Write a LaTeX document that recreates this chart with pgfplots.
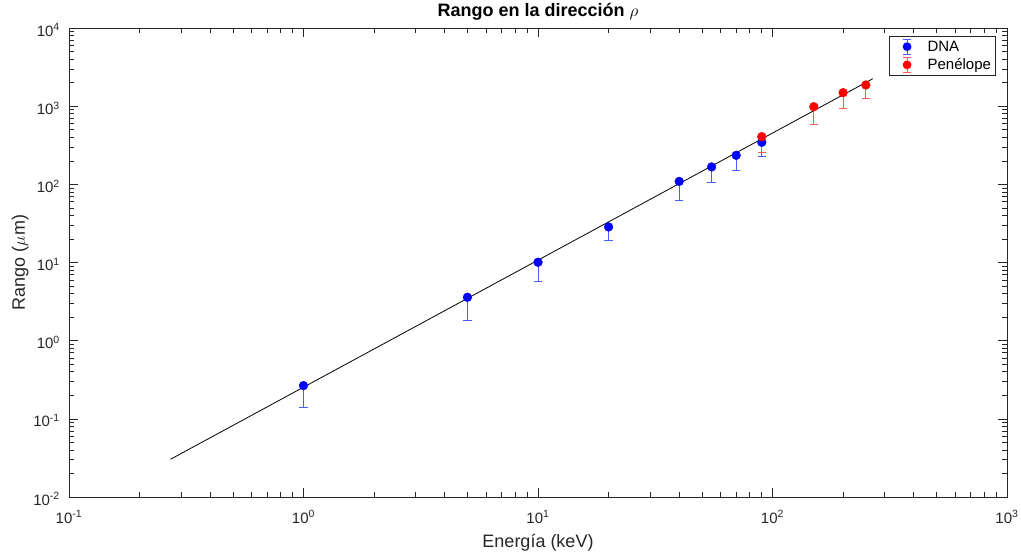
\documentclass[border=0pt]{standalone}
\usepackage{fontspec}
\setmainfont{Liberation Sans}
\usepackage{pgfplots}
\pgfplotsset{compat=1.18}
\definecolor{axgray}{rgb}{0.15,0.15,0.15}
\definecolor{errblue}{rgb}{0.3,0.35,1}
\definecolor{errred}{rgb}{1,0.35,0.35}
\pgfplotsset{
  ebblue/.style={legend image code/.code={
    \draw[errblue, line width=1pt, fill=none] (16pt,-7.5pt) -- (16pt,7.5pt);
    \draw[errblue, line width=1pt, fill=none] (12pt,-7.5pt) -- (20pt,-7.5pt);
    \draw[errblue, line width=1pt, fill=none] (12pt,7.5pt) -- (20pt,7.5pt);
    \fill[blue, draw=none] (16pt,0pt) circle (4.4pt);
    \path[draw=none, fill=none] (0pt,0pt) (34pt,0pt);
  }},
  ebred/.style={legend image code/.code={
    \draw[errred, line width=1pt, fill=none] (16pt,-7.5pt) -- (16pt,7.5pt);
    \draw[errred, line width=1pt, fill=none] (12pt,-7.5pt) -- (20pt,-7.5pt);
    \draw[errred, line width=1pt, fill=none] (12pt,7.5pt) -- (20pt,7.5pt);
    \fill[red, draw=none] (16pt,0pt) circle (4.4pt);
    \path[draw=none, fill=none] (0pt,0pt) (34pt,0pt);
  }},
}
\begin{document}
\begin{tikzpicture}
\begin{axis}[
  name=ax,
  scale only axis, width=938pt, height=469pt,
  xmode=log, ymode=log,
  xmin=0.1, xmax=1000, ymin=0.01, ymax=10000,
  xtick={0.1,1,10,100,1000},
  ytick={0.01,0.1,1,10,100,1000,10000},
  xticklabel={\pgfmathtruncatemacro{\e}{round(\tick/ln(10))}10\textsuperscript{\e}},
  yticklabel={\pgfmathtruncatemacro{\e}{round(\tick/ln(10))}10\textsuperscript{\e}},
  tick align=inside,
  major tick length=9pt, minor tick length=5pt,
  axis line style={axgray, line width=0.8pt},
  every tick/.style={axgray, line width=0.6pt},
  xticklabel style={font=\fontsize{15}{15}\selectfont, text=axgray, inner sep=0pt, anchor=base, yshift=-26pt},
  yticklabel style={font=\fontsize{15}{15}\selectfont, text=axgray, inner sep=0pt, anchor=east, xshift=-9pt, yshift=-2pt},
  xlabel={Energía (keV)},
  ylabel={Rango ($\mu$m)},
  xlabel style={font=\fontsize{18}{18}\selectfont, text=axgray, at={(axis description cs:0.5,0)}, anchor=base, yshift=-50pt, inner sep=0pt},
  ylabel style={font=\fontsize{18}{18}\selectfont, text=axgray, at={(axis description cs:-0.0469,0.5)}, anchor=base, inner sep=0pt, rotate=0},
  title={Rango en la dirección $\rho$},
  title style={font=\fontsize{18}{18}\selectfont\bfseries, at={(axis description cs:0.5,1)}, anchor=base, yshift=5pt, inner sep=0pt},
  legend style={at={(axis description cs:0.988,0.983)}, anchor=north east, draw=axgray, line width=0.6pt,
    font=\fontsize{15}{15}\selectfont, inner xsep=2pt, inner ysep=2pt, row sep=1pt,
    nodes={inner sep=2.5pt}},
  legend cell align=left,
  clip=true,
]
\addplot[only marks, mark=*, mark size=4.4pt, blue, mark options={draw=blue, fill=blue}, ebblue,
  error bars/y dir=minus, error bars/y explicit,
  error bars/error bar style={errblue, line width=1pt},
  error bars/error mark=-,
  error bars/error mark options={rotate=90, errblue, mark size=4.2pt, line width=1pt}]
coordinates {
  (1,0.266) -= (0,0.125)
  (5,3.59) -= (0,1.77)
  (10,10.07) -= (0,4.32)
  (20,28.5) -= (0,9.3)
  (40,109) -= (0,46)
  (55,167) -= (0,60)
  (70,235) -= (0,84)
  (90,345) -= (0,121)
};
\addlegendentry{DNA}
\addplot[only marks, mark=*, mark size=4.4pt, red, mark options={draw=red, fill=red}, ebred,
  error bars/y dir=minus, error bars/y explicit,
  error bars/error bar style={errred, line width=1pt},
  error bars/error mark=-,
  error bars/error mark options={rotate=90, errred, mark size=4.2pt, line width=1pt}]
coordinates {
  (90,407) -= (0,148)
  (150,985) -= (0,398)
  (200,1488) -= (0,567)
  (250,1867) -= (0,607)
};
\addlegendentry{Penélope}
\addplot[black, line width=0.8pt, forget plot] coordinates {
  (0.271,0.0304) (268,2248)
};
\end{axis}
\pgfresetboundingbox
\path ([xshift=-69pt,yshift=-60pt]ax.south west) rectangle ([xshift=14pt,yshift=28pt]ax.north east);
\end{tikzpicture}
\end{document}
